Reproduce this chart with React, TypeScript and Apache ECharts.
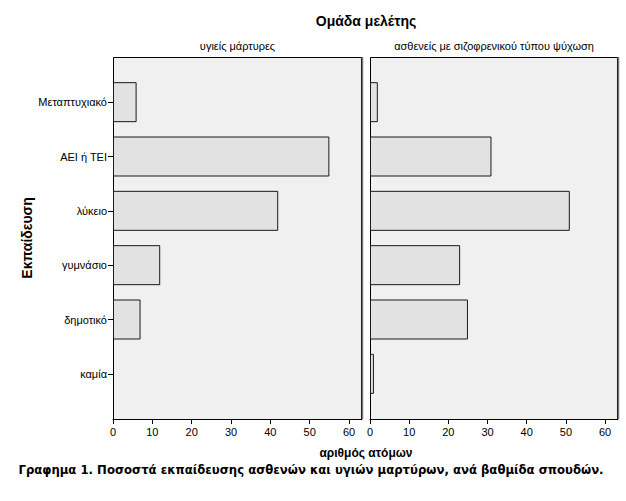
import React, { useEffect, useRef } from "react";
import * as echarts from "echarts";

const categories = ["Μεταπτυχιακό", "ΑΕΙ ή ΤΕΙ", "λύκειο", "γυμνάσιο", "δημοτικό", "καμία"];
const healthyValues = [6, 55, 42, 12, 7, 0];
const patientValues = [2, 31, 51, 23, 25, 1];
const xTickValues = [0, 10, 20, 30, 40, 50, 60];
const panelTitles = ["υγιείς μάρτυρες", "ασθενείς με σιζοφρενικού τύπου ψύχωση"];
const mainTitle = "Ομάδα μελέτης";
const yName = "Εκπαίδευση";
const xName = "αριθμός ατόμων";
const caption = "Γραφημα 1. Ποσοστά εκπαίδευσης ασθενών και υγιών μαρτύρων, ανά βαθμίδα σπουδών.";

const FONT = "'Liberation Sans', Arial, sans-serif";

export default function App() {
  const ref = useRef<HTMLDivElement>(null);
  useEffect(() => {
    if (!ref.current) return;
    const chart = echarts.init(ref.current, null, { renderer: "svg" });
    const panels = [
      { left: 113, width: 249 },
      { left: 370, width: 248 },
    ];
    const top = 75;
    const height = 326;
    const panelTop = 57;
    const panelBottom = 419;

    const xAxisCommon = (gi: number) => ({
      type: "value",
      gridIndex: gi,
      min: 0,
      max: 63.3,
      offset: panelBottom - (top + height),
      splitLine: { show: false },
      axisLine: { show: true, lineStyle: { color: "#000", width: 1 } },
      axisTick: { show: true, length: 5, lineStyle: { color: "#000" }, customValues: xTickValues },
      axisLabel: { color: "#000", fontSize: 11, fontFamily: FONT, margin: 7, customValues: xTickValues },
    });

    const graphics: any[] = [];
    panels.forEach((p, i) => {
      graphics.push({
        type: "rect",
        z: -10,
        shape: { x: p.left + 0.5, y: panelTop + 0.5, width: p.width - 1, height: panelBottom - panelTop },
        style: { fill: "#f0f0f0", stroke: "#000", lineWidth: 1 },
        silent: true,
      });
      graphics.push({
        type: "line",
        z: 10,
        shape: { x1: p.left + p.width + 0.5, y1: panelTop, x2: p.left + p.width + 0.5, y2: panelBottom },
        style: { stroke: "#7a7a7a", lineWidth: 1.5 },
        silent: true,
      });
      graphics.push({
        type: "text",
        x: p.left + p.width / 2,
        y: 46,
        style: { text: panelTitles[i], font: `11px ${FONT}`, fill: "#000", textAlign: "center", textVerticalAlign: "middle" },
      });
    });
    graphics.push({
      type: "text",
      x: 366,
      y: 21,
      style: { text: mainTitle, font: `bold 14px ${FONT}`, fill: "#000", textAlign: "center", textVerticalAlign: "middle" },
    });
    graphics.push({
      type: "text",
      x: 366,
      y: 453,
      style: { text: xName, font: `bold 12px ${FONT}`, fill: "#000", textAlign: "center", textVerticalAlign: "middle" },
    });
    graphics.push({
      type: "text",
      x: 27,
      y: 238,
      rotation: Math.PI / 2,
      style: { text: yName, font: `bold 14px ${FONT}`, fill: "#000", textAlign: "center", textVerticalAlign: "middle" },
    });
    graphics.push({
      type: "text",
      x: 311,
      y: 470,
      style: { text: caption, font: `bold 11.7px 'DejaVu Sans', ${FONT}`, fill: "#000", textAlign: "center", textVerticalAlign: "middle" },
    });

    const barStyle = { color: "#e2e2e2", borderColor: "#1a1a1a", borderWidth: 1 };
    const toData = (vals: number[]) =>
      vals.map((v) => (v === 0 ? { value: v, itemStyle: { borderWidth: 0, opacity: 0 } } : v));

    chart.setOption({
      animation: false,
      backgroundColor: "#fff",
      textStyle: { fontFamily: FONT },
      grid: panels.map((p) => ({ left: p.left, width: p.width, top, height, containLabel: false })),
      xAxis: [xAxisCommon(0), xAxisCommon(1)],
      yAxis: [
        {
          type: "category",
          gridIndex: 0,
          data: categories,
          inverse: true,
          axisLine: { show: false },
          axisTick: { show: true, length: 5, alignWithLabel: true, lineStyle: { color: "#000" } },
          axisLabel: { color: "#000", fontSize: 11, fontFamily: FONT, margin: 6 },
        },
        {
          type: "category",
          gridIndex: 1,
          data: categories,
          inverse: true,
          axisLine: { show: false },
          axisTick: { show: false },
          axisLabel: { show: false },
        },
      ],
      series: [
        {
          type: "bar",
          xAxisIndex: 0,
          yAxisIndex: 0,
          data: toData(healthyValues),
          barWidth: 40,
          itemStyle: barStyle,
        },
        {
          type: "bar",
          xAxisIndex: 1,
          yAxisIndex: 1,
          data: toData(patientValues),
          barWidth: 40,
          itemStyle: barStyle,
        },
      ],
      graphic: graphics,
    });
    return () => chart.dispose();
  }, []);
  return (
    <div
      ref={ref}
      style={{ position: "fixed", left: 0, top: 0, width: 626, height: 501, background: "#fff" }}
    />
  );
}
